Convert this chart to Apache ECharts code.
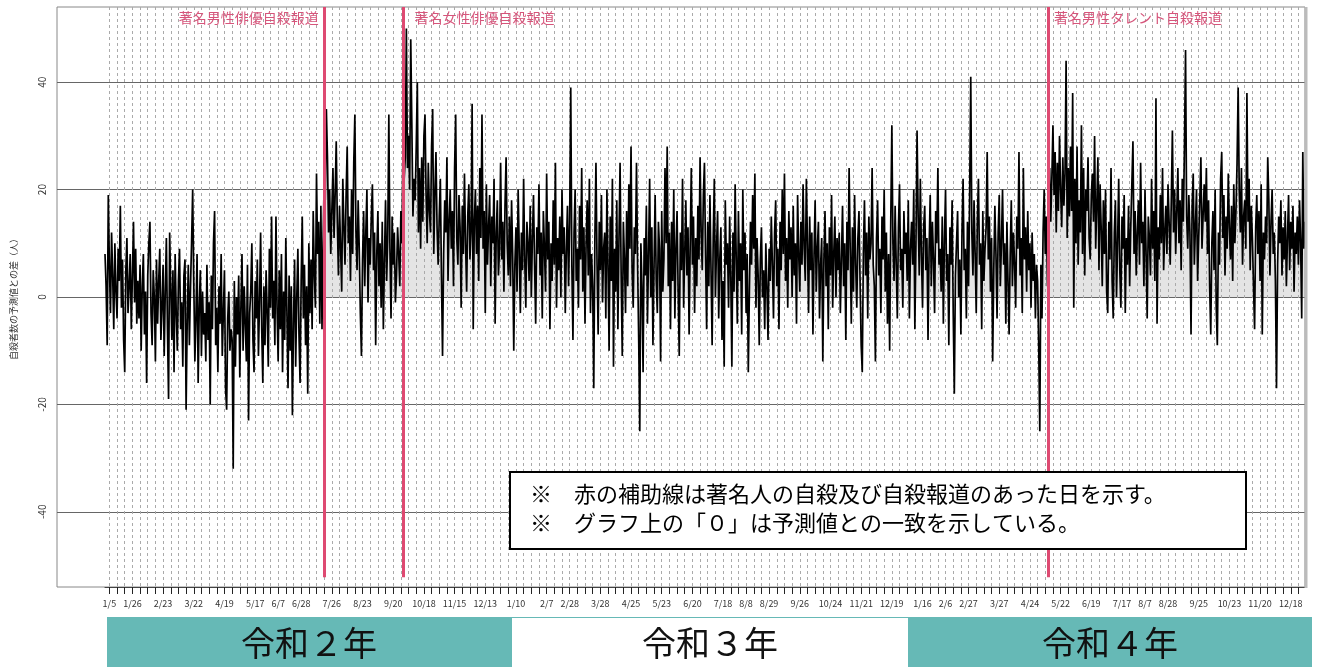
<!DOCTYPE html>
<html>
<head>
<meta charset="utf-8">
<title>自殺者数の予測値との差</title>
<script src="https://cdn.jsdelivr.net/npm/echarts@6/dist/echarts.min.js"></script>
<style>
  html, body { margin: 0; padding: 0; background: #fff; }
  #main { width: 1317px; height: 667px; }
</style>
</head>
<body>
<div id="main"></div>
<script>
// 日次の「実測 − 予測」(人)。1行 = 1か月
const diff2020 = [
  8, 2, -9, 19, 6, -3, 12, 4, -6, 10, 1, -4, 9, 3, 17, -2, 7, -8, -14, 5, 11, -3, 2, 8, -6, 4, 14, -1, 9, -5, 3,
  -4, 6, -10, 2, 8, -7, 1, -16, 4, 10, 14, -3, -9, 5, 0, -12, 7, -5, 3, 9, -8, -2, 6, -11, 1, 11, -6, -19, 12,
  2, -8, 5, -14, 8, -3, -10, 3, 9, -6, -1, -13, 4, 7, -21, -5, 6, -9, 2, 10, 20, 3, -12, -4, 8, -16, -2, 5, -11, 1, -7,
  -3, -12, 6, -8, -1, -20, 4, -6, 10, 16, -9, -2, -14, 2, -5, 8, -11, -3, 5, -17, -21, -4, 1, -10, -6, -8, -32, 3, -13, 0,
  -7, 4, -15, -2, 8, -10, 2, -5, -12, 6, -23, -3, 1, 10, -8, -14, 3, -4, 7, -11, -1, 12, -6, -16, 2, -9, 5, -3, -13, 9, -2,
  15, -4, 3, -9, 15, -2, -12, 5, -6, 8, -14, 1, -8, 11, -3, -17, 4, -10, 2, -22, -5, 7, -13, 0, 9, -7, -16, 3, 15, -4,
  6, -9, 2, -18, 10, -3, 7, -6, 16, 4, -2, 23, 8, 14, -5, 17, -6, 10, 22, 18, 35, 26, 12, 20, 8, 16, 24, 11, 19, 29, 14,
  4, 17, 9, 1, 22, 13, 6, 19, 28, 10, 15, 3, 20, 8, 25, 34, 12, 5, 18, 9, -3, -11, 7, 16, 2, 12, 20, -1, 11, 6, 15,
  21, 5, 12, -9, 8, 16, 2, 10, -2, 14, -6, 7, 18, 3, 11, 34, 9, -4, 15, 6, 12, -1, 4, 13, 8, 2, 16, 10, 30, 22,
  26, 50, 24, 30, 20, 48, 32, 15, 22, 18, 28, 40, 12, 24, 9, 26, 14, 30, 34, 19, 10, 25, 16, 12, 28, 35, 8, 19, 27, 13, 6,
  15, 22, 4, -11, 8, 18, 12, 26, 3, 14, 20, 9, 16, 2, 24, 34, 11, 6, 19, 13, -2, 17, 8, 23, 10, 1, 15, 21, 7, 12,
  36, -6, 14, 20, 8, 17, 3, 24, 11, 34, 9, 16, -3, 21, 6, 13, 19, 2, 15, 10, 22, -5, 12, 18, 4, 9, 25, 7, 14, 1, 17
];
const diff2021 = [
  26, 10, 4, 15, 2, 18, 8, -10, 6, 13, 1, 20, 9, -3, 12, 5, 22, 7, -2, 14, 10, 3, 17, 0, 11, 19, 6, -5, 13, 8, 21,
  4, 12, -4, 16, 9, 1, 23, 7, 14, -6, 10, 3, 18, 6, 25, -2, 11, 5, 15, 0, 20, 8, 13, -3, 9, 17, 2, 14,
  39, 6, -8, 12, 20, 3, 9, -2, 17, 7, 24, 1, 13, -5, 10, 18, 4, 22, -3, 8, 2, -17, 11, 25, 6, -7, 14, 5, 19, -1, 9,
  12, -4, 20, 6, -10, 15, 3, 22, -13, 9, 1, 18, -6, 11, 25, 4, -11, 14, 7, -3, 16, 2, 21, 9, 28, 5, -2, 13, 8, 25,
  6, -8, -25, 10, 2, -14, 11, 4, 17, -5, 8, 22, 0, 13, -9, 6, 19, 3, -3, 14, 9, -12, 16, 1, 7, 24, 10, 28, 2, 12, -6,
  14, 3, 20, -4, 9, 16, 1, -11, 12, 5, 22, -2, 8, 18, 4, 13, -7, 10, 24, 6, 15, -3, 11, 2, 17, 7, 26, 12, 5, 19,
  25, 8, -6, 14, 2, 19, 5, -9, 11, 22, 0, 9, 16, -4, 7, 13, -8, 3, -13, 18, 6, 10, -2, 15, 4, -13, 12, 1, 21, 7, -5,
  16, 3, 10, -7, 20, 5, 12, -3, 8, -14, 1, 14, 6, 19, 9, 23, -2, 11, 4, -9, 7, 13, 0, 5, -6, 10, 2, -8, 9, 3, 15,
  6, -4, 12, 18, 2, 9, -6, 14, 5, 20, 8, 23, 3, 11, -2, 16, 7, 13, 0, 17, 4, 10, -5, 19, 8, 1, 14, 6, 21, 9,
  3, 22, 10, -3, 15, 5, 12, -7, 8, 18, 1, 9, 14, -4, 6, 11, -12, 7, 16, 2, 10, -6, 13, 4, 19, -2, 8, 15, 0, 11, 5,
  12, -3, 7, 17, 2, 10, -8, 14, 5, 24, 9, -5, 13, 1, 19, 6, -2, 11, 16, 3, -9, -14, 8, 18, 4, 12, -4, 15, 7, 10,
  24, 6, 2, -12, 11, 18, 4, 9, -3, 15, 7, 20, 1, 12, -5, 8, -10, 14, 32, 10, 3, 17, 6, -4, 13, 21, 5, 9, -2, 16, 8
];
const diff2022 = [
  12, 3, 18, -4, 9, 14, 6, 20, -6, 10, 31, 15, 4, 22, 8, -2, 13, 17, 5, 11, -8, 9, 19, 2, 14, 7, -3, 16, 10, 24, 6,
  9, 1, 15, -5, 11, 20, 3, 8, -9, 13, 6, 18, -3, -18, 4, 10, 16, 0, 7, -7, 12, 22, 5, 9, -4, 14, 2, 19,
  41, 12, 4, 18, 8, -3, 14, 22, 6, 10, -6, 16, 3, 9, 13, 27, 7, 15, 1, 11, -12, 5, 17, 8, -4, 12, 19, 2, 10, 20, 6,
  10, -5, 14, 3, -7, 8, 18, 2, 12, 6, -2, 15, 9, 27, 4, 11, -3, 24, 7, 13, 1, 16, 5, 10, -2, 12, 3, 8, -4, 6,
  3, -9, -25, 6, -4, 12, 20, 8, 15, 2, 18, 24, 14, 22, 32, 19, 27, 12, 25, 16, 30, 20, 13, 26, 17, 23, 44, 11, 24, 15, 28,
  16, 38, -2, 22, 10, 28, 6, 18, 12, 32, 8, 24, 4, 20, 16, 26, 11, 7, 19, 23, 14, 30, 9, 17, 26, 5, 21, 13, 2, 18,
  8, 20, 1, -3, 14, 7, 24, 3, -4, 12, 18, 0, 10, 22, 5, -2, 15, 9, 19, -3, 11, 6, 17, 2, 13, 21, 29, 8, 16, 4, 12,
  18, 6, 25, 10, 14, 2, 20, 8, -4, 15, 11, 4, 22, 9, 16, 3, 37, -5, 13, 7, 19, 10, 24, 5, 12, 17, 8, 21, 14, 6, 18,
  31, 12, 20, 8, 16, 24, 10, 18, 5, 22, 14, 28, 46, 15, 9, 19, 12, -7, 17, 23, 6, 13, 20, 3, 11, 18, 26, 9, 15, 21,
  14, 24, 8, 18, 2, -7, 10, 16, 5, 20, -2, -9, 12, 6, 22, 27, 11, 19, 4, 15, 9, 23, 13, 7, 17, 3, 21, 10, 16, 25, 39,
  20, 12, 24, 6, 15, 18, 9, 38, 14, 22, 5, 17, 11, 2, -6, 13, 19, 8, 16, 3, 21, -7, 12, 7, 15, 10, 26, 18, 4, 14,
  20, 8, 12, 3, -17, 6, 15, 10, 18, 4, 13, 7, 16, 2, 11, 19, 5, 14, 9, 17, 1, 12, 8, 15, 6, 18, 10, -4, 27, 9, 14
];

// 目盛ラベルを出す日（すべて日曜）
const tickLabels = [
  '2020-01-05', '2020-01-26', '2020-02-23', '2020-03-22', '2020-04-19', '2020-05-17', '2020-06-07',
  '2020-06-28', '2020-07-26', '2020-08-23', '2020-09-20', '2020-10-18', '2020-11-15', '2020-12-13',
  '2021-01-10', '2021-02-07', '2021-02-28', '2021-03-28', '2021-04-25', '2021-05-23', '2021-06-20',
  '2021-07-18', '2021-08-08', '2021-08-29', '2021-09-26', '2021-10-24', '2021-11-21', '2021-12-19',
  '2022-01-16', '2022-02-06', '2022-02-27', '2022-03-27', '2022-04-24', '2022-05-22', '2022-06-19',
  '2022-07-17', '2022-08-07', '2022-08-28', '2022-09-25', '2022-10-23', '2022-11-20', '2022-12-18'
];
const yTicks = [-40, -20, 0, 20, 40];

// 著名人の自殺報道（赤の補助線）
const eventDates = ['2020-07-19', '2020-09-29', '2022-05-11'];
const eventNames = ['著名男性俳優自殺報道', '著名女性俳優自殺報道', '著名男性タレント自殺報道'];

const yearNames = ['令和２年', '令和３年', '令和４年'];
const noteLines = [
  '※　赤の補助線は著名人の自殺及び自殺報道のあった日を示す。',
  '※　グラフ上の「０」は予測値との一致を示している。'
];

const values = diff2020.concat(diff2021, diff2022);
const dates = [];
const sundays = new Set();
const t0 = Date.UTC(2020, 0, 1);
for (let i = 0; i < values.length; i++) {
  const d = new Date(t0 + i * 86400000);
  const s = d.toISOString().slice(0, 10);
  dates.push(s);
  if (d.getUTCDay() === 0) sundays.add(s);
}
const labelSet = new Set(tickLabels);

const FONT = '"Noto Sans CJK JP", "Noto Sans", sans-serif';
const TEAL = '#66b9b6';
const RED = '#de4a72';

const chart = echarts.init(document.getElementById('main'), null, { renderer: 'canvas' });

const option = {
  animation: false,
  textStyle: { fontFamily: FONT },
  grid: [
    // 枠・横線・縦軸用
    { left: 57, top: 7, width: 1248, height: 580, show: true, borderColor: '#888', borderWidth: 1 },
    // データ用
    { left: 105, top: 7, width: 1200, height: 580 }
  ],
  xAxis: [
    { gridIndex: 0, type: 'value', min: 0, max: 1, show: false },
    {
      gridIndex: 1,
      type: 'category',
      data: dates,
      boundaryGap: false,
      position: 'bottom',
      axisLine: { show: true, onZero: false, lineStyle: { color: '#444', width: 1 } },
      axisTick: {
        show: true,
        interval: (i, v) => sundays.has(v),
        length: 7,
        lineStyle: { color: '#222', width: 1 }
      },
      axisLabel: {
        interval: (i, v) => labelSet.has(v),
        formatter: v => {
          const p = v.split('-');
          return (+p[1]) + '/' + (+p[2]);
        },
        fontSize: 9,
        color: '#333',
        margin: 12
      },
      splitLine: {
        show: true,
        interval: (i, v) => sundays.has(v),
        lineStyle: { color: '#aaa', width: 1, type: [3, 3] }
      }
    }
  ],
  yAxis: [
    {
      gridIndex: 0,
      type: 'value',
      min: -54,
      max: 54,
      name: '自殺者数の予測値との差（人）',
      nameLocation: 'middle',
      nameGap: 39,
      nameRotate: 90,
      nameTextStyle: { fontSize: 9, color: '#333' },
      axisLine: { show: false },
      axisTick: { show: false, customValues: yTicks },
      axisLabel: { customValues: yTicks, rotate: 90, fontSize: 10, color: '#333', margin: 10 },
      splitLine: { show: true, lineStyle: { color: '#666', width: 1 } }
    },
    { gridIndex: 1, type: 'value', min: -54, max: 54, show: false }
  ],
  series: [
    {
      name: '予測値との差',
      type: 'line',
      xAxisIndex: 1,
      yAxisIndex: 1,
      data: values,
      showSymbol: false,
      symbol: 'none',
      lineStyle: { color: '#000', width: 1.7 },
      areaStyle: { color: 'rgba(170,170,170,0.45)', origin: 0 },
      markLine: {
        silent: true,
        symbol: ['none', 'none'],
        label: { show: false },
        lineStyle: { color: RED, width: 3, type: 'solid' },
        emphasis: { disabled: true },
        data: eventDates.map(d => [{ coord: [d, 54] }, { coord: [d, -52.2] }])
      },
      markPoint: {
        silent: true,
        symbol: 'rect',
        symbolSize: 1,
        itemStyle: { color: 'rgba(0,0,0,0)' },
        label: { show: true, color: '#d6557b', fontSize: 14, formatter: p => p.name },
        data: eventDates.map((d, i) => ({
          name: eventNames[i],
          coord: [d, 52.1],
          label: { position: i === 0 ? 'left' : 'right', distance: i === 1 ? 11 : 5 }
        }))
      }
    }
  ],
  graphic: [
    // 右端の灰色の縁
    { type: 'line', z: 50, shape: { x1: 1306, y1: 7, x2: 1306, y2: 588 }, style: { stroke: '#bbb', lineWidth: 3 } },
    // 注記
    { type: 'rect', z: 100, shape: { x: 510, y: 472, width: 736, height: 77 }, style: { fill: '#fff', stroke: '#000', lineWidth: 2 } },
    { type: 'text', z: 101, style: { x: 530, y: 494, text: noteLines[0], font: '22px ' + FONT, fill: '#000', verticalAlign: 'middle', textVerticalAlign: 'middle' } },
    { type: 'text', z: 101, style: { x: 530, y: 523, text: noteLines[1], font: '22px ' + FONT, fill: '#000', verticalAlign: 'middle', textVerticalAlign: 'middle' } },
    // 年の帯
    { type: 'rect', z: 10, shape: { x: 107, y: 617, width: 405, height: 50 }, style: { fill: TEAL } },
    { type: 'line', z: 10, shape: { x1: 512, y1: 617.5, x2: 908, y2: 617.5 }, style: { stroke: TEAL, lineWidth: 1 } },
    { type: 'rect', z: 10, shape: { x: 908, y: 617, width: 404, height: 50 }, style: { fill: TEAL } }
  ].concat(yearNames.map((t, i) => ({
    type: 'text',
    z: 11,
    style: {
      x: [309, 710, 1110][i],
      y: 643,
      text: t,
      font: '34px ' + FONT,
      fill: '#111',
      align: 'center', textAlign: 'center',
      verticalAlign: 'middle', textVerticalAlign: 'middle'
    }
  })))
};

chart.setOption(option);
</script>
</body>
</html>
